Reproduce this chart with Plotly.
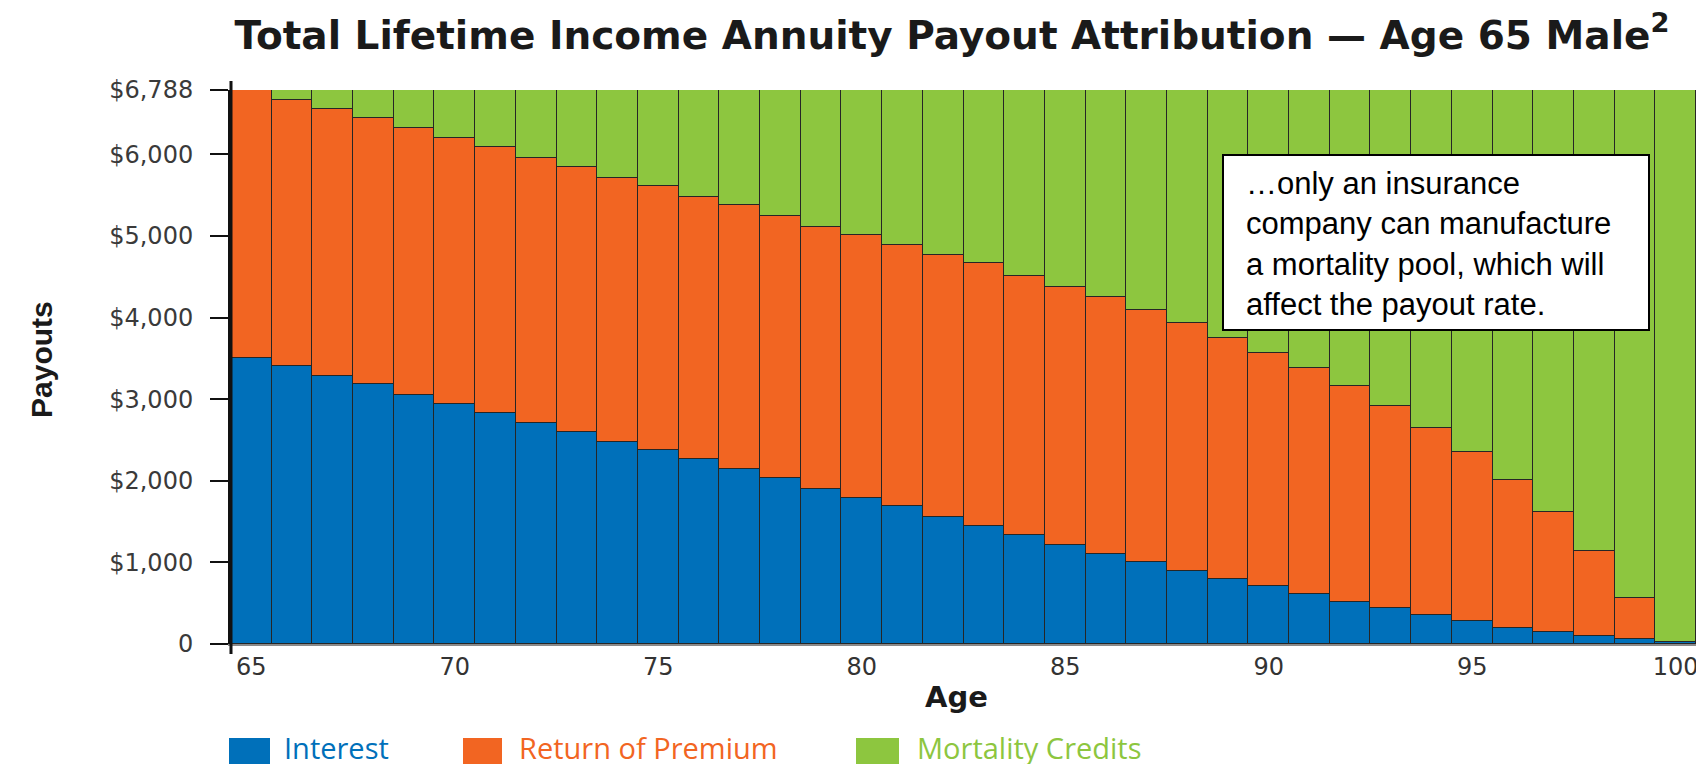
import plotly.graph_objects as go

# ---------------- data ----------------
ages = list(range(65, 101))
interest = [3510, 3410, 3285, 3180, 3045, 2940, 2830, 2705, 2600, 2480, 2375, 2270,
            2140, 2030, 1900, 1795, 1685, 1560, 1440, 1335, 1215, 1105, 1000, 895,
            800, 705, 612, 519, 439, 359, 280, 200, 146, 93, 67, 20]
return_of_premium = [3278, 3250, 3270, 3270, 3273, 3255, 3257, 3249, 3250, 3235, 3237, 3210,
                     3234, 3210, 3208, 3217, 3207, 3210, 3223, 3175, 3155, 3142, 3090, 3041,
                     2951, 2859, 2766, 2639, 2476, 2291, 2070, 1805, 1468, 1052, 502, 0]
mortality_credits = [0, 128, 233, 338, 470, 593, 701, 834, 938, 1073, 1176, 1308,
                     1414, 1548, 1680, 1776, 1896, 2018, 2125, 2278, 2418, 2541, 2698, 2852,
                     3037, 3224, 3410, 3630, 3873, 4138, 4438, 4783, 5174, 5643, 6219, 6768]
series_names = ["Interest", "Return of Premium", "Mortality Credits"]
y_tick_vals = [0, 1000, 2000, 3000, 4000, 5000, 6000, 6788]
y_tick_text = ["0", "$1,000", "$2,000", "$3,000", "$4,000", "$5,000", "$6,000", "$6,788"]
x_tick_vals = [65, 70, 75, 80, 85, 90, 95, 100]
title_text = "Total Lifetime Income Annuity Payout Attribution \u2014 Age 65 Male<sup>2</sup>"
note_text = ("\u2026only an insurance<br>company can manufacture<br>"
             "a mortality pool, which will<br>affect the payout rate.")

# ---------------- styling ----------------
BLUE = "#0070BA"
ORANGE = "#F26522"
GREEN = "#8DC63F"
EDGE = "#262626"
W, H = 1704, 764
L, R, T, B = 223, 16, 82, 128
PW, PH = W - L - R, H - T - B


def px(x):
    return (x - L) / PW


def py(y):
    return (H - B - y) / PH


fig = go.Figure()
for vals, name, col in zip([interest, return_of_premium, mortality_credits],
                           series_names, [BLUE, ORANGE, GREEN]):
    fig.add_trace(go.Bar(x=ages, y=vals, name=name, width=1,
                         marker=dict(color=col, line=dict(color=EDGE, width=1.5)),
                         showlegend=False))

shapes = []
annotations = []

# extended y axis line
shapes.append(dict(type="line", xref="paper", yref="paper", x0=0, x1=0,
                   y0=py(646), y1=py(73), line=dict(color="#111111", width=3)))

# note box
shapes.append(dict(type="rect", xref="paper", yref="paper",
                   x0=px(1215), x1=px(1641), y0=py(322), y1=py(147),
                   fillcolor="white", line=dict(color="black", width=2), layer="above"))
annotations.append(dict(text=note_text, xref="paper", yref="paper",
                        x=px(1236), y=py(236), xanchor="left", yanchor="middle",
                        align="left", showarrow=False,
                        font=dict(family="Liberation Sans, Arial", size=31, color="black")))

# axis titles
annotations.append(dict(text="<b>Payouts</b>", xref="paper", yref="paper",
                        x=px(33), y=py(352), textangle=-90, showarrow=False,
                        xanchor="center", yanchor="middle",
                        font=dict(family="Liberation Sans, Arial", size=30, color="#1a1a1a")))
annotations.append(dict(text="<b>Age</b>", xref="paper", yref="paper",
                        x=px(948), y=py(689), showarrow=False,
                        xanchor="center", yanchor="middle",
                        font=dict(family="DejaVu Sans", size=29, color="#1a1a1a")))

# custom legend
legend_items = [(series_names[0], BLUE, 221, 262, 274),
                (series_names[1], ORANGE, 455, 494, 509),
                (series_names[2], GREEN, 848, 891, 907)]
for name, col, sx0, sx1, tx in legend_items:
    shapes.append(dict(type="rect", xref="paper", yref="paper",
                       x0=px(sx0), x1=px(sx1), y0=py(764), y1=py(730),
                       fillcolor=col, line=dict(width=0)))
    annotations.append(dict(text=name, xref="paper", yref="paper",
                            x=px(tx), y=py(739), xanchor="left", yanchor="middle",
                            showarrow=False,
                            font=dict(family="Open Sans", size=29, color=col)))

fig.update_layout(
    width=W, height=H,
    margin=dict(l=L, r=R, t=T, b=B, pad=0),
    barmode="stack", bargap=0,
    plot_bgcolor="white", paper_bgcolor="white",
    title=dict(text=title_text, x=px(944), xref="paper", xanchor="center",
               y=1 - 27 / H, yref="container", yanchor="middle",
               font=dict(family="DejaVu Sans", size=39, color="#1a1a1a", weight="bold")),
    shapes=shapes, annotations=annotations,
    xaxis=dict(range=[64.5, 100.5], tickvals=x_tick_vals, ticks="",
               showgrid=False, zeroline=False, showline=True, linecolor="#8a8a8a",
               linewidth=2, ticklabelstandoff=0,
               tickfont=dict(family="DejaVu Sans", size=24, color="#333333")),
    yaxis=dict(range=[0, 6788], tickvals=y_tick_vals, ticktext=y_tick_text,
               ticks="outside", ticklen=18, tickwidth=2, tickcolor="#111111",
               showgrid=False, zeroline=False, showline=True, linecolor="#111111",
               linewidth=3, ticklabelstandoff=12,
               tickfont=dict(family="DejaVu Sans", size=24, color="#3a3a3a")),
)

fig.write_html("out.html")
